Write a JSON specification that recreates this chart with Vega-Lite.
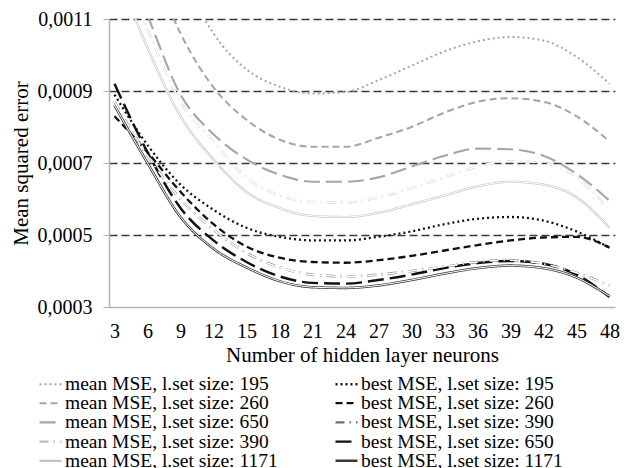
{
"$schema": "https://vega.github.io/schema/vega-lite/v6.json",
"autosize": {"type": "none"},
"width": 506, "height": 288,
"padding": {"left": 109, "top": 19, "right": 15, "bottom": 161},
"background": "white",
"config": {"view": {"stroke": null}, "font": "Liberation Serif", "axis": {"labelOverlap": false}, "axisX": {"labelOverlap": false}, "legend": {"rowPadding": -0.8, "columnPadding": 56}},
"datasets": {"d": [
{"series":"mean MSE, l.set size: 195","neurons":3,"mse":0.0019},{"series":"mean MSE, l.set size: 195","neurons":6,"mse":0.00155},{"series":"mean MSE, l.set size: 195","neurons":9,"mse":0.00124},{"series":"mean MSE, l.set size: 195","neurons":12,"mse":0.00106},{"series":"mean MSE, l.set size: 195","neurons":15,"mse":0.00096},{"series":"mean MSE, l.set size: 195","neurons":18,"mse":0.000912},{"series":"mean MSE, l.set size: 195","neurons":21,"mse":0.000893},{"series":"mean MSE, l.set size: 195","neurons":24,"mse":0.000897},{"series":"mean MSE, l.set size: 195","neurons":27,"mse":0.00093},{"series":"mean MSE, l.set size: 195","neurons":30,"mse":0.00097},{"series":"mean MSE, l.set size: 195","neurons":33,"mse":0.00101},{"series":"mean MSE, l.set size: 195","neurons":36,"mse":0.001038},{"series":"mean MSE, l.set size: 195","neurons":39,"mse":0.00105},{"series":"mean MSE, l.set size: 195","neurons":42,"mse":0.00104},{"series":"mean MSE, l.set size: 195","neurons":45,"mse":0.000995},{"series":"mean MSE, l.set size: 195","neurons":48,"mse":0.00092},
{"series":"best MSE, l.set size: 195","neurons":3,"mse":0.00089},{"series":"best MSE, l.set size: 195","neurons":6,"mse":0.00075},{"series":"best MSE, l.set size: 195","neurons":9,"mse":0.00064},{"series":"best MSE, l.set size: 195","neurons":12,"mse":0.00057},{"series":"best MSE, l.set size: 195","neurons":15,"mse":0.00052},{"series":"best MSE, l.set size: 195","neurons":18,"mse":0.000495},{"series":"best MSE, l.set size: 195","neurons":21,"mse":0.000485},{"series":"best MSE, l.set size: 195","neurons":24,"mse":0.000485},{"series":"best MSE, l.set size: 195","neurons":27,"mse":0.000495},{"series":"best MSE, l.set size: 195","neurons":30,"mse":0.00051},{"series":"best MSE, l.set size: 195","neurons":33,"mse":0.00053},{"series":"best MSE, l.set size: 195","neurons":36,"mse":0.000545},{"series":"best MSE, l.set size: 195","neurons":39,"mse":0.00055},{"series":"best MSE, l.set size: 195","neurons":42,"mse":0.00054},{"series":"best MSE, l.set size: 195","neurons":45,"mse":0.00051},{"series":"best MSE, l.set size: 195","neurons":48,"mse":0.000465},
{"series":"mean MSE, l.set size: 260","neurons":3,"mse":0.0015},{"series":"mean MSE, l.set size: 260","neurons":6,"mse":0.00128},{"series":"mean MSE, l.set size: 260","neurons":9,"mse":0.00106},{"series":"mean MSE, l.set size: 260","neurons":12,"mse":0.00091},{"series":"mean MSE, l.set size: 260","neurons":15,"mse":0.00082},{"series":"mean MSE, l.set size: 260","neurons":18,"mse":0.000765},{"series":"mean MSE, l.set size: 260","neurons":21,"mse":0.000745},{"series":"mean MSE, l.set size: 260","neurons":24,"mse":0.000745},{"series":"mean MSE, l.set size: 260","neurons":27,"mse":0.00077},{"series":"mean MSE, l.set size: 260","neurons":30,"mse":0.0008},{"series":"mean MSE, l.set size: 260","neurons":33,"mse":0.00084},{"series":"mean MSE, l.set size: 260","neurons":36,"mse":0.00087},{"series":"mean MSE, l.set size: 260","neurons":39,"mse":0.00088},{"series":"mean MSE, l.set size: 260","neurons":42,"mse":0.00087},{"series":"mean MSE, l.set size: 260","neurons":45,"mse":0.00083},{"series":"mean MSE, l.set size: 260","neurons":48,"mse":0.00076},
{"series":"best MSE, l.set size: 260","neurons":3,"mse":0.00083},{"series":"best MSE, l.set size: 260","neurons":6,"mse":0.00073},{"series":"best MSE, l.set size: 260","neurons":9,"mse":0.00062},{"series":"best MSE, l.set size: 260","neurons":12,"mse":0.00053},{"series":"best MSE, l.set size: 260","neurons":15,"mse":0.000468},{"series":"best MSE, l.set size: 260","neurons":18,"mse":0.000437},{"series":"best MSE, l.set size: 260","neurons":21,"mse":0.000425},{"series":"best MSE, l.set size: 260","neurons":24,"mse":0.000423},{"series":"best MSE, l.set size: 260","neurons":27,"mse":0.00043},{"series":"best MSE, l.set size: 260","neurons":30,"mse":0.000442},{"series":"best MSE, l.set size: 260","neurons":33,"mse":0.000457},{"series":"best MSE, l.set size: 260","neurons":36,"mse":0.000472},{"series":"best MSE, l.set size: 260","neurons":39,"mse":0.000485},{"series":"best MSE, l.set size: 260","neurons":42,"mse":0.000493},{"series":"best MSE, l.set size: 260","neurons":45,"mse":0.000495},{"series":"best MSE, l.set size: 260","neurons":48,"mse":0.000465},
{"series":"mean MSE, l.set size: 650","neurons":3,"mse":0.00134},{"series":"mean MSE, l.set size: 650","neurons":6,"mse":0.00111},{"series":"mean MSE, l.set size: 650","neurons":9,"mse":0.00089},{"series":"mean MSE, l.set size: 650","neurons":12,"mse":0.00078},{"series":"mean MSE, l.set size: 650","neurons":15,"mse":0.00071},{"series":"mean MSE, l.set size: 650","neurons":18,"mse":0.000668},{"series":"mean MSE, l.set size: 650","neurons":21,"mse":0.000648},{"series":"mean MSE, l.set size: 650","neurons":24,"mse":0.000648},{"series":"mean MSE, l.set size: 650","neurons":27,"mse":0.00066},{"series":"mean MSE, l.set size: 650","neurons":30,"mse":0.00069},{"series":"mean MSE, l.set size: 650","neurons":33,"mse":0.00072},{"series":"mean MSE, l.set size: 650","neurons":36,"mse":0.00074},{"series":"mean MSE, l.set size: 650","neurons":39,"mse":0.000738},{"series":"mean MSE, l.set size: 650","neurons":42,"mse":0.00072},{"series":"mean MSE, l.set size: 650","neurons":45,"mse":0.00067},{"series":"mean MSE, l.set size: 650","neurons":48,"mse":0.000595},
{"series":"best MSE, l.set size: 390","neurons":3,"mse":0.00087},{"series":"best MSE, l.set size: 390","neurons":6,"mse":0.00072},{"series":"best MSE, l.set size: 390","neurons":9,"mse":0.0006},{"series":"best MSE, l.set size: 390","neurons":12,"mse":0.000515},{"series":"best MSE, l.set size: 390","neurons":15,"mse":0.00045},{"series":"best MSE, l.set size: 390","neurons":18,"mse":0.00041},{"series":"best MSE, l.set size: 390","neurons":21,"mse":0.00039},{"series":"best MSE, l.set size: 390","neurons":24,"mse":0.000385},{"series":"best MSE, l.set size: 390","neurons":27,"mse":0.00039},{"series":"best MSE, l.set size: 390","neurons":30,"mse":0.0004},{"series":"best MSE, l.set size: 390","neurons":33,"mse":0.000412},{"series":"best MSE, l.set size: 390","neurons":36,"mse":0.000425},{"series":"best MSE, l.set size: 390","neurons":39,"mse":0.00043},{"series":"best MSE, l.set size: 390","neurons":42,"mse":0.00042},{"series":"best MSE, l.set size: 390","neurons":45,"mse":0.000395},{"series":"best MSE, l.set size: 390","neurons":48,"mse":0.00036},
{"series":"mean MSE, l.set size: 390","neurons":3,"mse":0.00128},{"series":"mean MSE, l.set size: 390","neurons":6,"mse":0.00107},{"series":"mean MSE, l.set size: 390","neurons":9,"mse":0.00087},{"series":"mean MSE, l.set size: 390","neurons":12,"mse":0.00076},{"series":"mean MSE, l.set size: 390","neurons":15,"mse":0.00066},{"series":"mean MSE, l.set size: 390","neurons":18,"mse":0.00061},{"series":"mean MSE, l.set size: 390","neurons":21,"mse":0.000592},{"series":"mean MSE, l.set size: 390","neurons":24,"mse":0.00059},{"series":"mean MSE, l.set size: 390","neurons":27,"mse":0.000605},{"series":"mean MSE, l.set size: 390","neurons":30,"mse":0.00063},{"series":"mean MSE, l.set size: 390","neurons":33,"mse":0.00066},{"series":"mean MSE, l.set size: 390","neurons":36,"mse":0.00069},{"series":"mean MSE, l.set size: 390","neurons":39,"mse":0.000705},{"series":"mean MSE, l.set size: 390","neurons":42,"mse":0.0007},{"series":"mean MSE, l.set size: 390","neurons":45,"mse":0.00066},{"series":"mean MSE, l.set size: 390","neurons":48,"mse":0.00057},
{"series":"best MSE, l.set size: 650","neurons":3,"mse":0.00092},{"series":"best MSE, l.set size: 650","neurons":6,"mse":0.00073},{"series":"best MSE, l.set size: 650","neurons":9,"mse":0.000575},{"series":"best MSE, l.set size: 650","neurons":12,"mse":0.000485},{"series":"best MSE, l.set size: 650","neurons":15,"mse":0.000425},{"series":"best MSE, l.set size: 650","neurons":18,"mse":0.000385},{"series":"best MSE, l.set size: 650","neurons":21,"mse":0.000367},{"series":"best MSE, l.set size: 650","neurons":24,"mse":0.000365},{"series":"best MSE, l.set size: 650","neurons":27,"mse":0.000375},{"series":"best MSE, l.set size: 650","neurons":30,"mse":0.00039},{"series":"best MSE, l.set size: 650","neurons":33,"mse":0.000408},{"series":"best MSE, l.set size: 650","neurons":36,"mse":0.000422},{"series":"best MSE, l.set size: 650","neurons":39,"mse":0.000428},{"series":"best MSE, l.set size: 650","neurons":42,"mse":0.00042},{"series":"best MSE, l.set size: 650","neurons":45,"mse":0.00039},{"series":"best MSE, l.set size: 650","neurons":48,"mse":0.000328},
{"series":"mean MSE, l.set size: 1171","neurons":3,"mse":0.00125},{"series":"mean MSE, l.set size: 1171","neurons":6,"mse":0.00102},{"series":"mean MSE, l.set size: 1171","neurons":9,"mse":0.00083},{"series":"mean MSE, l.set size: 1171","neurons":12,"mse":0.00071},{"series":"mean MSE, l.set size: 1171","neurons":15,"mse":0.00062},{"series":"mean MSE, l.set size: 1171","neurons":18,"mse":0.000575},{"series":"mean MSE, l.set size: 1171","neurons":21,"mse":0.000553},{"series":"mean MSE, l.set size: 1171","neurons":24,"mse":0.00055},{"series":"mean MSE, l.set size: 1171","neurons":27,"mse":0.000562},{"series":"mean MSE, l.set size: 1171","neurons":30,"mse":0.000585},{"series":"mean MSE, l.set size: 1171","neurons":33,"mse":0.00061},{"series":"mean MSE, l.set size: 1171","neurons":36,"mse":0.000635},{"series":"mean MSE, l.set size: 1171","neurons":39,"mse":0.000648},{"series":"mean MSE, l.set size: 1171","neurons":42,"mse":0.00064},{"series":"mean MSE, l.set size: 1171","neurons":45,"mse":0.000605},{"series":"mean MSE, l.set size: 1171","neurons":48,"mse":0.00052},
{"series":"best MSE, l.set size: 1171","neurons":3,"mse":0.00086},{"series":"best MSE, l.set size: 1171","neurons":6,"mse":0.0007},{"series":"best MSE, l.set size: 1171","neurons":9,"mse":0.00055},{"series":"best MSE, l.set size: 1171","neurons":12,"mse":0.000462},{"series":"best MSE, l.set size: 1171","neurons":15,"mse":0.00041},{"series":"best MSE, l.set size: 1171","neurons":18,"mse":0.000372},{"series":"best MSE, l.set size: 1171","neurons":21,"mse":0.000355},{"series":"best MSE, l.set size: 1171","neurons":24,"mse":0.000353},{"series":"best MSE, l.set size: 1171","neurons":27,"mse":0.00036},{"series":"best MSE, l.set size: 1171","neurons":30,"mse":0.000375},{"series":"best MSE, l.set size: 1171","neurons":33,"mse":0.000393},{"series":"best MSE, l.set size: 1171","neurons":36,"mse":0.000408},{"series":"best MSE, l.set size: 1171","neurons":39,"mse":0.000415},{"series":"best MSE, l.set size: 1171","neurons":42,"mse":0.000408},{"series":"best MSE, l.set size: 1171","neurons":45,"mse":0.000382},{"series":"best MSE, l.set size: 1171","neurons":48,"mse":0.00033}
]},
"data": {"name": "d"},
"encoding": {
  "x": {"field": "neurons", "type": "quantitative", "scale": {"domain": [2.5, 48.5], "nice": false, "zero": false},
   "axis": {"values": [3,6,9,12,15,18,21,24,27,30,33,36,39,42,45,48], "title": "Number of hidden layer neurons", "titleFont": "Liberation Serif", "titleFontSize": 21, "titleFontWeight": "normal", "titleColor": "#000", "titleY": 48, "titleBaseline": "middle", "labelFont": "Liberation Serif", "labelFontSize": 20, "labelColor": "#000", "labelPadding": 14, "ticks": false, "domainColor": "#b4b4b4", "domainWidth": 1.5, "grid": false, "labelFlush": false, "labelOverlap": false, "labelBound": false}},
  "y": {"field": "mse", "type": "quantitative", "scale": {"domain": [0.0003, 0.0011], "nice": false, "zero": false},
   "axis": {"values": [0.0003,0.0005,0.0007,0.0009,0.0011], "labelExpr": "replace(format(datum.value, '.4f'), '.', ',')", "title": "Mean squared error", "titleFont": "Liberation Serif", "titleFontSize": 21, "titleFontWeight": "normal", "titleColor": "#000", "titleX": -88, "titleY": 144, "titleAngle": -90, "titleBaseline": "middle", "titleAlign": "center", "labelFont": "Liberation Serif", "labelFontSize": 20, "labelColor": "#000", "labelPadding": 11, "tickSize": 6, "tickColor": "#b4b4b4", "domainColor": "#b4b4b4", "domainWidth": 1.5, "grid": true, "gridColor": {"condition": {"test": "datum.value < 0.0004", "value": "transparent"}, "value": "#3a3a3a"}, "gridDash": [8,4], "gridWidth": 1.6, "labelFlush": false, "labelOverlap": false}}
},
"layer": [
{"mark": {"type": "line", "interpolate": "monotone", "clip": true},
 "encoding": {
  "color": {"field": "series", "type": "nominal",
   "scale": {"domain": ["mean MSE, l.set size: 195","mean MSE, l.set size: 260","mean MSE, l.set size: 650","mean MSE, l.set size: 390","mean MSE, l.set size: 1171","best MSE, l.set size: 195","best MSE, l.set size: 260","best MSE, l.set size: 390","best MSE, l.set size: 650","best MSE, l.set size: 1171"],
    "range": ["#a6a6a6","#a6a6a6","#a6a6a6","#bdbdbd","#c4c4c4","#111111","#111111","#6e6e6e","#111111","#3a3a3a"]},
   "legend": {"title": null, "orient": "none", "legendX": -71, "legendY": 357, "columns": 2, "columnPadding": 56, "rowPadding": -0.8, "clipHeight": 16, "symbolType": "stroke", "symbolSize": 484, "labelFont": "Liberation Serif", "labelFontSize": 19.5, "labelColor": "#000", "labelOffset": 2, "labelLimit": 400, "padding": 0}},
  "strokeDash": {"field": "series", "type": "nominal",
   "scale": {"domain": ["mean MSE, l.set size: 195","mean MSE, l.set size: 260","mean MSE, l.set size: 650","mean MSE, l.set size: 390","mean MSE, l.set size: 1171","best MSE, l.set size: 195","best MSE, l.set size: 260","best MSE, l.set size: 390","best MSE, l.set size: 650","best MSE, l.set size: 1171"],
    "range": [[2,3],[7,4],[16,6],[9,5,1.5,5],[1,0],[2,3],[7,4],[9,5,1.5,5],[16,6],[1,0]]}},
  "strokeWidth": {"field": "series", "type": "nominal",
   "scale": {"domain": ["mean MSE, l.set size: 195","mean MSE, l.set size: 260","mean MSE, l.set size: 650","mean MSE, l.set size: 390","mean MSE, l.set size: 1171","best MSE, l.set size: 195","best MSE, l.set size: 260","best MSE, l.set size: 390","best MSE, l.set size: 650","best MSE, l.set size: 1171"],
    "range": [2,2.5,3,4,3,2.5,3,4,3,3.5]}}
 }},
{"transform": [{"filter": {"field": "series", "oneOf": ["mean MSE, l.set size: 1171","best MSE, l.set size: 1171"]}}],
 "mark": {"type": "line", "interpolate": "monotone", "clip": true, "color": "white", "strokeWidth": 1},
 "encoding": {"detail": {"field": "series", "type": "nominal"}}},
{"transform": [{"filter": {"field": "series", "oneOf": ["mean MSE, l.set size: 390","best MSE, l.set size: 390"]}}],
 "mark": {"type": "line", "interpolate": "monotone", "clip": true, "color": "white", "strokeWidth": 1.6, "strokeDash": [9,5,1.5,5]},
 "encoding": {"detail": {"field": "series", "type": "nominal"}}}
]
}
